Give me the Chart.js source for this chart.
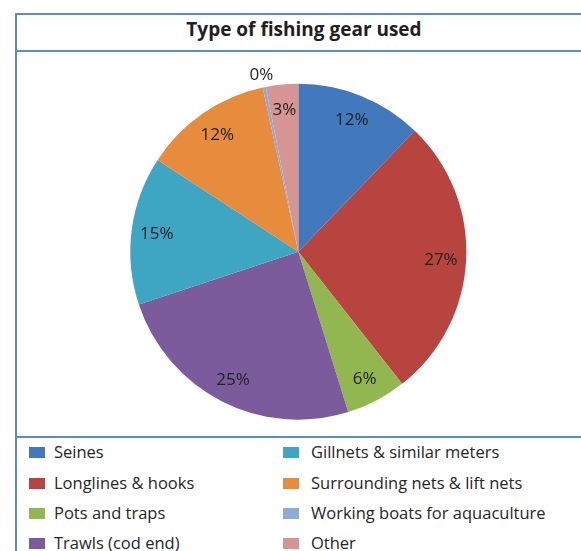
<!DOCTYPE html>
<html>
<head>
<meta charset="utf-8">
<script src="https://cdn.jsdelivr.net/npm/chart.js@4"></script>
<style>
  html, body { margin: 0; padding: 0; background: #fff; }
  body { width: 581px; height: 551px; position: relative; overflow: hidden; font-family: "Open Sans", sans-serif; }
  .hline { position: absolute; left: 15px; right: 0; height: 2px; background: #5a8bcf; }
  .vline { position: absolute; left: 15px; width: 2px; top: 13px; bottom: 0; background: #5a8bcf; }
  #title { position: absolute; left: 0; width: 608px; top: 19.8px; text-align: center; font-weight: bold; font-size: 19px; line-height: 19px; color: #231f20; white-space: nowrap; }
  #chartWrap { position: absolute; left: 17px; top: 52px; width: 564px; height: 384px; }
  .lg-sw { position: absolute; width: 16px; height: 11px; }
  .lg-tx { position: absolute; font-size: 16.5px; line-height: 16.5px; color: #262626; white-space: nowrap; }
</style>
</head>
<body>
<div class="hline" style="top:13px"></div>
<div class="hline" style="top:50px"></div>
<div class="hline" style="top:436px"></div>
<div class="vline"></div>
<div id="title"></div>
<div id="chartWrap"><canvas id="c" width="564" height="384"></canvas></div>
<div id="legend"></div>
<script>
const chartTitle = "Type of fishing gear used";
const categories = [
  "Seines",
  "Longlines & hooks",
  "Pots and traps",
  "Trawls (cod end)",
  "Gillnets & similar meters",
  "Surrounding nets & lift nets",
  "Working boats for aquaculture",
  "Other"
];
const values = [12.2, 27.2, 5.8, 24.7, 14.3, 12.4, 0.3, 3.1];
const pctLabels = ["12%", "27%", "6%", "25%", "15%", "12%", "0%", "3%"];
const colors = ["#4279bd", "#b8443f", "#93b750", "#7b5b9b", "#3ea5c3", "#e78c3c", "#8eaad6", "#d69592"];
const legendOrder = [0, 1, 2, 3, 4, 5, 6, 7];

document.getElementById('title').textContent = chartTitle;

// HTML legend in two columns (column-major)
const legend = document.getElementById('legend');
const rowTops = [447, 478, 508, 538];
const colSw = [29, 283];
const colTx = [54, 311];
legendOrder.forEach((idx, k) => {
  const col = Math.floor(k / 4), row = k % 4;
  const sw = document.createElement('div');
  sw.className = 'lg-sw';
  sw.style.left = colSw[col] + 'px';
  sw.style.top = rowTops[row] + 'px';
  sw.style.background = colors[idx];
  legend.appendChild(sw);
  const tx = document.createElement('div');
  tx.className = 'lg-tx';
  tx.style.left = colTx[col] + 'px';
  tx.style.top = (rowTops[row] + 12 - 14.65) + 'px';
  tx.textContent = categories[idx];
  legend.appendChild(tx);
});

const labelPlugin = {
  id: 'sliceLabels',
  afterDatasetsDraw(chart) {
    const ctx = chart.ctx;
    const meta = chart.getDatasetMeta(0);
    const total = values.reduce((a, b) => a + b, 0);
    ctx.save();
    ctx.font = '17px "Open Sans", sans-serif';
    ctx.fillStyle = '#222222';
    ctx.textAlign = 'center';
    ctx.textBaseline = 'middle';
    meta.data.forEach((arc, i) => {
      const p = arc.getProps(['x', 'y', 'startAngle', 'endAngle', 'outerRadius'], true);
      const mid = (p.startAngle + p.endAngle) / 2;
      const share = values[i] / total;
      const f = share < 0.01 ? 1.08 : 0.85;
      const r = p.outerRadius * f;
      ctx.fillText(pctLabels[i], p.x + Math.cos(mid) * r, p.y + Math.sin(mid) * r + 1);
    });
    ctx.restore();
  }
};

new Chart(document.getElementById('c'), {
  type: 'pie',
  data: {
    labels: categories,
    datasets: [{
      data: values,
      backgroundColor: colors,
      borderWidth: 0
    }]
  },
  options: {
    responsive: false,
    animation: false,
    layout: { padding: { left: 113.3, right: 114.7, top: 31.7, bottom: 16.3 } },
    plugins: {
      legend: { display: false },
      title: { display: false },
      tooltip: { enabled: false }
    }
  },
  plugins: [labelPlugin]
});
</script>
</body>
</html>
